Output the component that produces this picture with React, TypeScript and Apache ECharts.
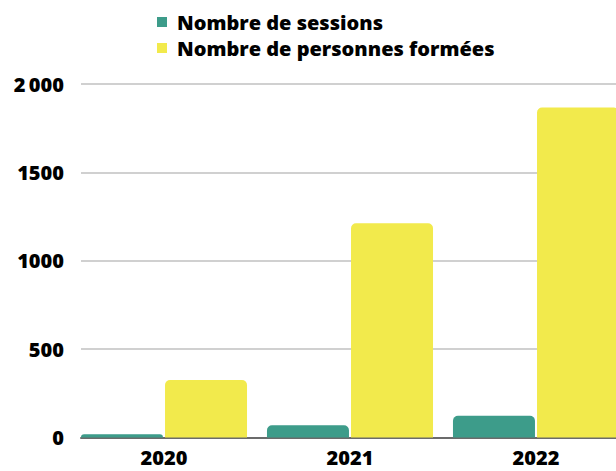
import React, { useEffect, useRef } from "react";
import * as echarts from "echarts";

const categories = ["2020", "2021", "2022"];
const sessions = [18, 69, 123];
const personnes = [325, 1212, 1867];
const seriesNames = ["Nombre de sessions", "Nombre de personnes formées"];
const colors = ["#3d9c8a", "#f2ea4c"];
const yTickLabels: Record<number, string> = { 0: "0", 500: "500", 1000: "1000", 1500: "1500", 2000: "2\u2009000" };

const FONT = "'Open Sans', 'Noto Sans', sans-serif";
const INNER_W = 640;

export default function App() {
  const ref = useRef<HTMLDivElement>(null);
  useEffect(() => {
    if (!ref.current) return;
    const chart = echarts.init(ref.current, undefined, { renderer: "svg" });
    const textBase = { fontFamily: FONT, fontWeight: 800, fontSize: 20, color: "#000" };
    chart.setOption({
      animation: false,
      backgroundColor: "#fff",
      legend: {
        orient: "vertical",
        left: 152,
        top: 7,
        itemWidth: 10,
        itemHeight: 10,
        itemGap: 6,
        icon: "rect",
        data: seriesNames,
        textStyle: { ...textBase, lineHeight: 20, padding: [0, 0, 0, 5] },
      },
      grid: [
        { left: 81, right: INNER_W - 616, top: 84, bottom: 33.5 },
        { left: 71, right: INNER_W - 629, top: 84, bottom: 33.5 },
      ],
      xAxis: [
        {
          type: "category",
          gridIndex: 0,
          data: categories,
          axisLine: { show: true, lineStyle: { color: "#6b6b6b", width: 2 } },
          axisTick: { show: false },
          axisLabel: { show: false },
        },
        {
          type: "category",
          gridIndex: 1,
          data: categories,
          axisLine: { show: false },
          axisTick: { show: false },
          axisLabel: { ...textBase, lineHeight: 20, margin: 10 },
        },
      ],
      yAxis: [
        {
          type: "value",
          gridIndex: 0,
          min: 0,
          max: 2000,
          interval: 500,
          axisLine: { show: false },
          axisTick: { show: false },
          axisLabel: {
            ...textBase,
            margin: 17,
            formatter: (v: number) => yTickLabels[v] ?? String(v),
          },
          splitLine: { show: true, lineStyle: { color: "#c0c0c0", width: 1.5 } },
        },
        {
          type: "value",
          gridIndex: 1,
          min: 0,
          max: 2000,
          interval: 500,
          show: false,
          splitLine: { show: false },
        },
      ],
      series: [
        {
          name: seriesNames[0],
          type: "bar",
          xAxisIndex: 1,
          yAxisIndex: 1,
          data: sessions,
          barWidth: 82,
          barGap: "2.5%",
          itemStyle: { color: colors[0], borderRadius: [5, 5, 0, 0] },
        },
        {
          name: seriesNames[1],
          type: "bar",
          xAxisIndex: 1,
          yAxisIndex: 1,
          data: personnes,
          barWidth: 82,
          barGap: "2.5%",
          itemStyle: { color: colors[1], borderRadius: [5, 5, 0, 0] },
        },
      ],
    });
    return () => chart.dispose();
  }, []);
  return (
    <div style={{ position: "fixed", left: 0, top: 0, width: 616, height: 471, overflow: "hidden" }}>
      <div ref={ref} style={{ width: INNER_W, height: 471 }} />
    </div>
  );
}
